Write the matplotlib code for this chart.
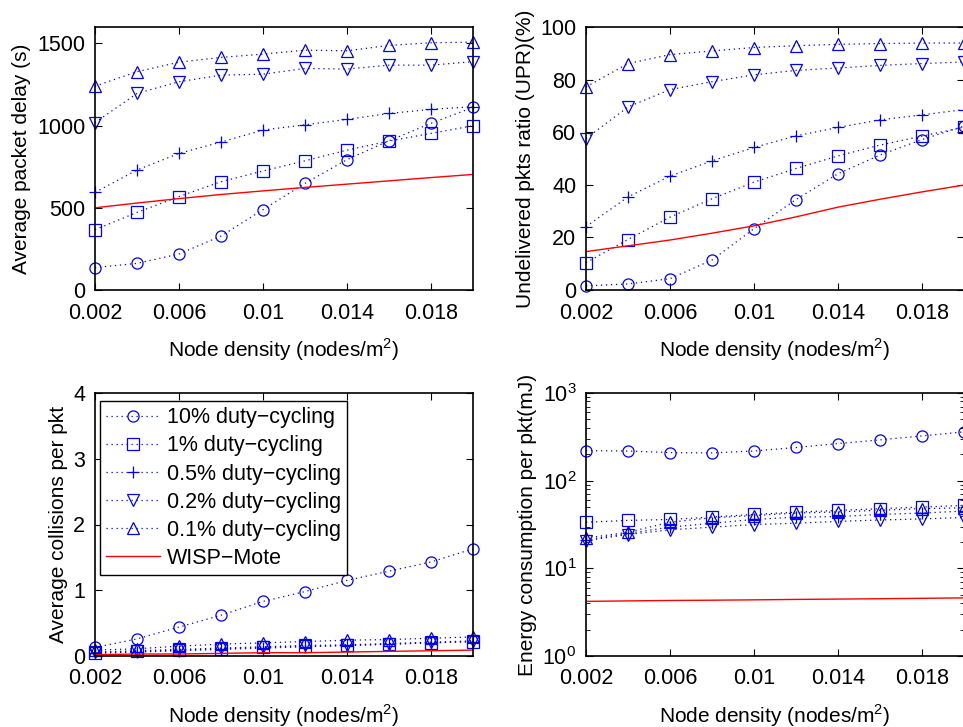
import matplotlib
matplotlib.use("Agg")
import matplotlib.pyplot as plt

plt.rcParams['font.family'] = ['Liberation Sans', 'DejaVu Sans']
plt.rcParams['mathtext.fontset'] = 'custom'
plt.rcParams['mathtext.rm'] = 'Liberation Sans'

# node density (nodes/m^2)
density = [0.002, 0.004, 0.006, 0.008, 0.010, 0.012, 0.014, 0.016, 0.018, 0.020]

labels = ["10% duty\u2212cycling", "1% duty\u2212cycling", "0.5% duty\u2212cycling",
          "0.2% duty\u2212cycling", "0.1% duty\u2212cycling", "WISP\u2212Mote"]
markers = ['o', 's', '+', 'v', '^']

# average packet delay (s)
delay_10 = [136, 162, 219, 328, 489, 649, 793, 908, 1014, 1111]
delay_1 = [367, 472, 568, 659, 724, 786, 851, 906, 953, 999]
delay_05 = [594, 730, 831, 900, 973, 1005, 1038, 1074, 1099, 1115]
delay_02 = [1018, 1196, 1267, 1307, 1313, 1348, 1344, 1368, 1368, 1389]
delay_01 = [1240, 1328, 1386, 1415, 1435, 1459, 1455, 1488, 1504, 1508]
delay_wisp = [500, 529, 556, 581, 603, 624, 644, 664, 684, 703]

# undelivered packets ratio (%)
upr_10 = [1.6, 2.3, 4.3, 11.4, 23.3, 34.4, 44.2, 51.3, 57.2, 62.3]
upr_1 = [10.4, 19.2, 27.7, 34.7, 41.0, 46.2, 51.0, 55.1, 58.5, 61.9]
upr_05 = [24.1, 35.4, 43.3, 49.1, 54.2, 58.6, 61.8, 64.7, 66.6, 68.6]
upr_02 = [57.6, 69.6, 76.2, 79.2, 81.8, 83.5, 84.4, 85.4, 86.1, 86.7]
upr_01 = [77.2, 86.1, 89.5, 90.9, 92.2, 92.9, 93.4, 93.7, 93.9, 93.9]
upr_wisp = [14.6, 16.8, 19.0, 21.6, 24.4, 27.8, 31.5, 34.5, 37.3, 39.9]

# average collisions per packet
col_10 = [0.13, 0.26, 0.44, 0.62, 0.83, 0.98, 1.15, 1.29, 1.43, 1.63]
col_1 = [0.05, 0.07, 0.09, 0.11, 0.13, 0.15, 0.16, 0.18, 0.20, 0.22]
col_05 = [0.04, 0.06, 0.08, 0.10, 0.12, 0.14, 0.16, 0.18, 0.20, 0.22]
col_02 = [0.06, 0.08, 0.10, 0.12, 0.14, 0.16, 0.17, 0.19, 0.21, 0.23]
col_01 = [0.09, 0.11, 0.15, 0.18, 0.20, 0.22, 0.24, 0.25, 0.27, 0.29]
col_wisp = [0.02, 0.03, 0.03, 0.04, 0.05, 0.05, 0.06, 0.07, 0.08, 0.09]

# energy consumption per packet (mJ)
energy_10 = [220, 218, 209, 207, 218, 239, 265, 292, 324, 360]
energy_1 = [33.6, 35.2, 36.1, 38.5, 41.2, 43.7, 45.8, 47.9, 50.0, 52.2]
energy_05 = [21.1, 25.0, 29.5, 32.7, 36.1, 38.4, 38.9, 41.2, 42.7, 45.0]
energy_02 = [20.7, 24.3, 27.5, 29.5, 31.6, 32.7, 34.3, 35.6, 36.6, 38.0]
energy_01 = [22.1, 25.8, 33.6, 37.8, 40.0, 42.7, 44.0, 46.0, 48.0, 49.0]
energy_wisp = [4.20, 4.25, 4.30, 4.33, 4.37, 4.42, 4.46, 4.50, 4.55, 4.60]

fig = plt.figure(figsize=(9.63, 7.27), dpi=100)
W = 378 / 963
H = 263 / 727
axes = [
    fig.add_axes([95 / 963, 1 - 290 / 727, W, H]),
    fig.add_axes([586 / 963, 1 - 290 / 727, W, H]),
    fig.add_axes([95 / 963, 1 - 656 / 727, W, H]),
    fig.add_axes([586 / 963, 1 - 656 / 727, W, H]),
]

panels = [
    ([delay_10, delay_1, delay_05, delay_02, delay_01], delay_wisp,
     "Average packet delay (s)", (0, 1600), [0, 500, 1000, 1500]),
    ([upr_10, upr_1, upr_05, upr_02, upr_01], upr_wisp,
     "Undelivered pkts ratio (UPR)(%)", (0, 100), [0, 20, 40, 60, 80, 100]),
    ([col_10, col_1, col_05, col_02, col_01], col_wisp,
     "Average collisions per pkt", (0, 4), [0, 1, 2, 3, 4]),
    ([energy_10, energy_1, energy_05, energy_02, energy_01], energy_wisp,
     "Energy consumption per pkt(mJ)", (1, 1000), None),
]

xt = [0.002, 0.006, 0.01, 0.014, 0.018]
for i, (ax, (series, wisp, ylab, ylim, yt)) in enumerate(zip(axes, panels)):
    for s, m, lab in zip(series, markers, labels):
        ax.plot(density, s, linestyle=(0, (1, 3)), color='blue', linewidth=0.9,
                marker=m, markersize=8 if m != '+' else 9, markerfacecolor='none',
                markeredgecolor='blue', markeredgewidth=0.9, label=lab, clip_on=False)
    ax.plot(density, wisp, '-', color='red', linewidth=1.0, label=labels[5])
    if i == 3:
        ax.set_yscale('log')
    ax.set_ylim(*ylim)
    if yt is not None:
        ax.set_yticks(yt)
    ax.set_xlim(0.002, 0.02)
    ax.set_xticks(xt)
    ax.set_xticklabels(["0.002", "0.006", "0.01", "0.014", "0.018"])
    ax.tick_params(direction='in', top=True, right=True, labelsize=15.5, length=5, width=0.8)
    ax.tick_params(axis='x', pad=9)
    ax.tick_params(axis='y', pad=7)
    ax.tick_params(which='minor', direction='in', top=True, right=True, length=3)
    ax.set_ylabel(ylab, fontsize=15, labelpad=4)
    ax.set_xlabel("Node density (nodes/m$^2$)", fontsize=15, labelpad=9)
    for sp in ax.spines.values():
        sp.set_linewidth(1.2)

axes[2].legend(loc='upper left', fontsize=15.5, handlelength=2.5, frameon=True,
               fancybox=False, edgecolor='black', framealpha=1,
               borderpad=0.3, labelspacing=0.33, handletextpad=0.3,
               borderaxespad=0, bbox_to_anchor=(0.013, 0.97))

fig.savefig("out.png", dpi=100)
